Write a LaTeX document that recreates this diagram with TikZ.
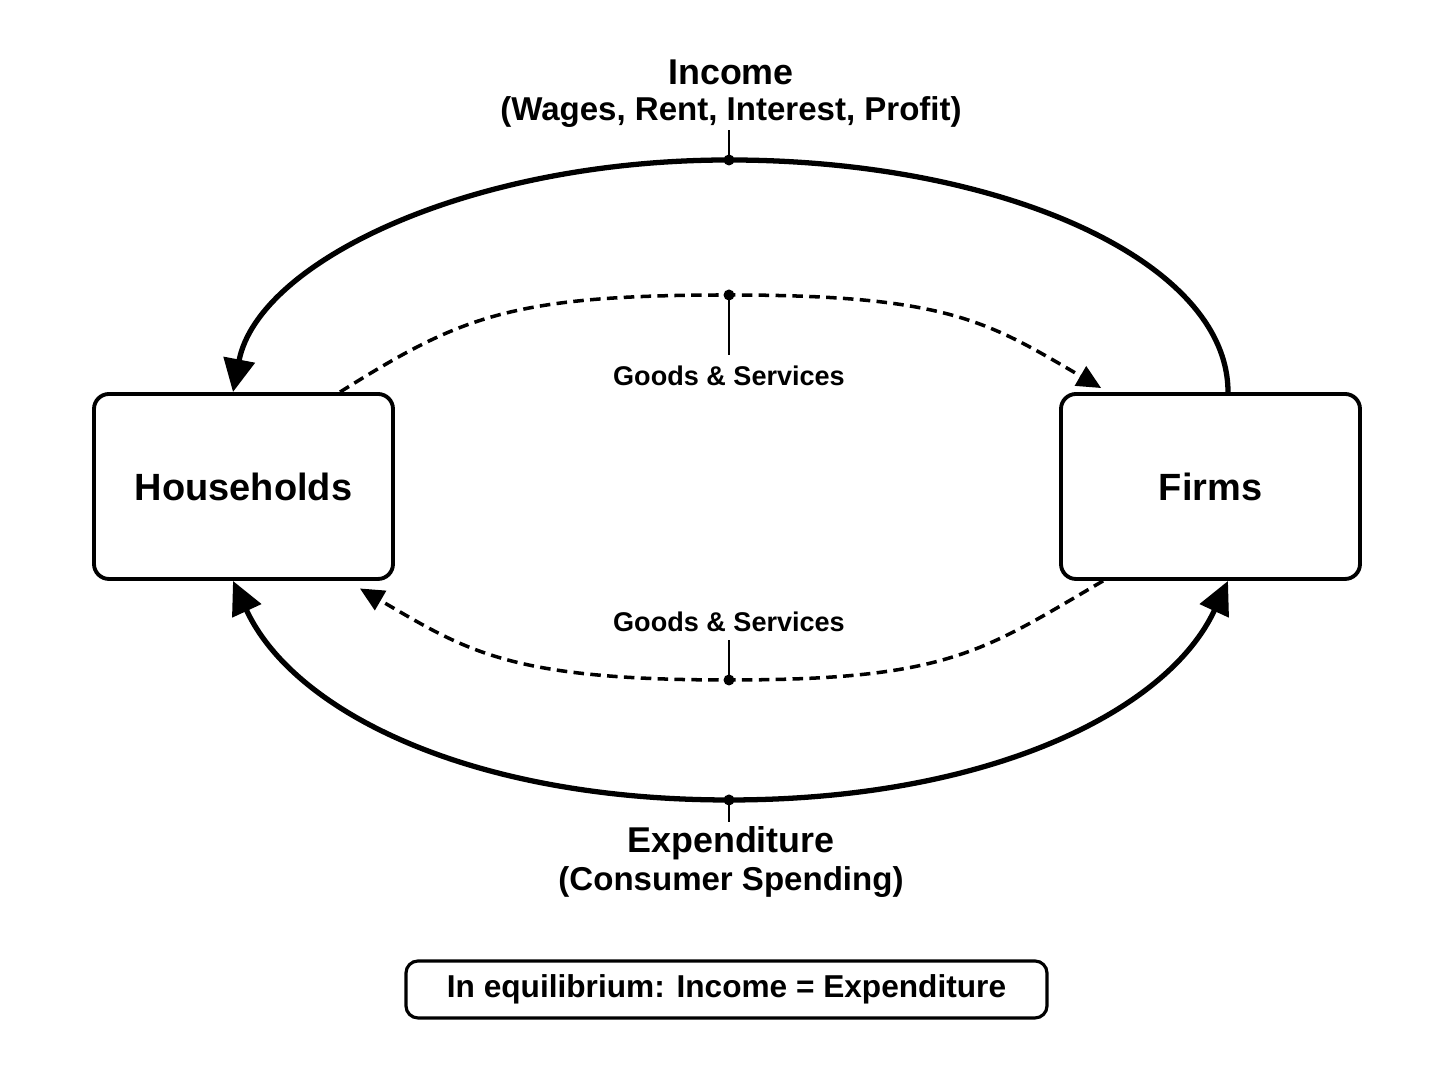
\documentclass[tikz,border=0pt]{standalone}
\usepackage{fontspec}
\setmainfont{Liberation Sans}
\usetikzlibrary{arrows.meta}

\begin{document}
\begin{tikzpicture}[
    sector/.style={draw, line width=1.1pt, rounded corners=1.5mm,
      minimum width=2.99cm, minimum height=1.85cm, inner sep=0pt,
      font=\bfseries\fontsize{10.8}{13}\selectfont},
    eqbox/.style={draw, line width=0.9pt, rounded corners=1.2mm,
      minimum width=6.41cm, minimum height=0.57cm, inner sep=0pt,
      font=\bfseries\fontsize{9}{11}\selectfont},
    bigtip/.tip={Triangle[length=3.3mm,width=3.1mm]},
    smalltip/.tip={Triangle[length=2.4mm,width=2.2mm]},
    money/.style={line width=1.5pt},
    goods/.style={line width=1pt, dash pattern=on 3pt off 1.8pt},
    tick/.style={line width=0.7pt},
    dot/.style={circle, fill=black, inner sep=0pt, minimum size=1.1mm},
    head/.style={anchor=base, font=\bfseries\fontsize{10.2}{12}\selectfont},
    sub/.style={anchor=base, font=\bfseries\fontsize{9.4}{12}\selectfont},
    gs/.style={anchor=base, font=\bfseries\fontsize{7.7}{9}\selectfont}
  ]
  \useasboundingbox (0,0) rectangle (14.48,10.86);
  %% sectors
  \node[sector] (H) at (2.435,5.995) {Households};
  \node[sector] (F) at (12.105,5.995) {Firms};
  %% flow midpoints
  \node[dot] (incdot) at (7.29,9.26) {};   % income
  \node[dot] (gtdot) at (7.29,7.91) {};    % goods, top
  \node[dot] (gbdot) at (7.29,4.06) {};    % goods, bottom
  \node[dot] (expdot) at (7.29,2.86) {};   % expenditure
  \coordinate (inctick) at (7.29,9.56);
  \coordinate (gttick) at (7.29,7.31);
  \coordinate (gbtick) at (7.29,4.46);
  \coordinate (exptick) at (7.29,2.64);
  %% labels
  \node[head] (inc) at (7.31,10.01) {Income};
  \node[sub] (incsub) at (7.31,9.65) {(Wages, Rent, Interest, Profit)};
  \node[gs] (gt) at (7.29,7.00) {Goods \& Services};
  \node[gs] (gb) at (7.29,4.54) {Goods \& Services};
  \node[head] (exp) at (7.31,2.33) {Expenditure};
  \node[sub] (expsub) at (7.31,1.95) {(Consumer Spending)};
  \node[eqbox] (eq) at (7.265,0.965) {In equilibrium: Income = Expenditure};
  %%% money flows
  \draw[money, -bigtip] ([xshift=1.75mm]F.north)
    .. controls +(0,1.3) and +(2.75,0) .. (incdot.center)
    .. controls +(-2.6,0) and +(0.25,1.3) .. ([xshift=-1.05mm]H.north); % F -> H
  \draw[money, bigtip-bigtip] ([xshift=-1.05mm]H.south)
    .. controls +(0.6,-1.3) and +(-2.6,0) .. (expdot.center)
    .. controls +(2.6,0) and +(-0.6,-1.3) .. ([xshift=1.75mm]F.south); % H <-> F
  %%% goods flows
  \draw[goods, -smalltip, shorten >=0.8mm] ([xshift=9.65mm]H.north)
    .. controls +(1.2,0.75) and +(-2.2,0) .. (gtdot.center)
    .. controls +(2.2,0) and +(-1.2,0.7) .. ([xshift=4.9mm]F.north west); % H -> F
  \draw[goods, -smalltip, shorten >=1.5mm] ([xshift=4.4mm]F.south west)
    .. controls +(-1.2,-0.7) and +(2.2,0) .. (gbdot.center)
    .. controls +(-2.2,0) and +(1.2,-0.7) .. ([xshift=-4.8mm]H.south east); % F -> H
  %%% ticks
  \draw[tick] (incdot.center) -- (inctick);
  \draw[tick] (gtdot.center) -- (gttick);
  \draw[tick] (gbdot.center) -- (gbtick);
  \draw[tick] (expdot.center) -- (exptick);
\end{tikzpicture}
\end{document}
